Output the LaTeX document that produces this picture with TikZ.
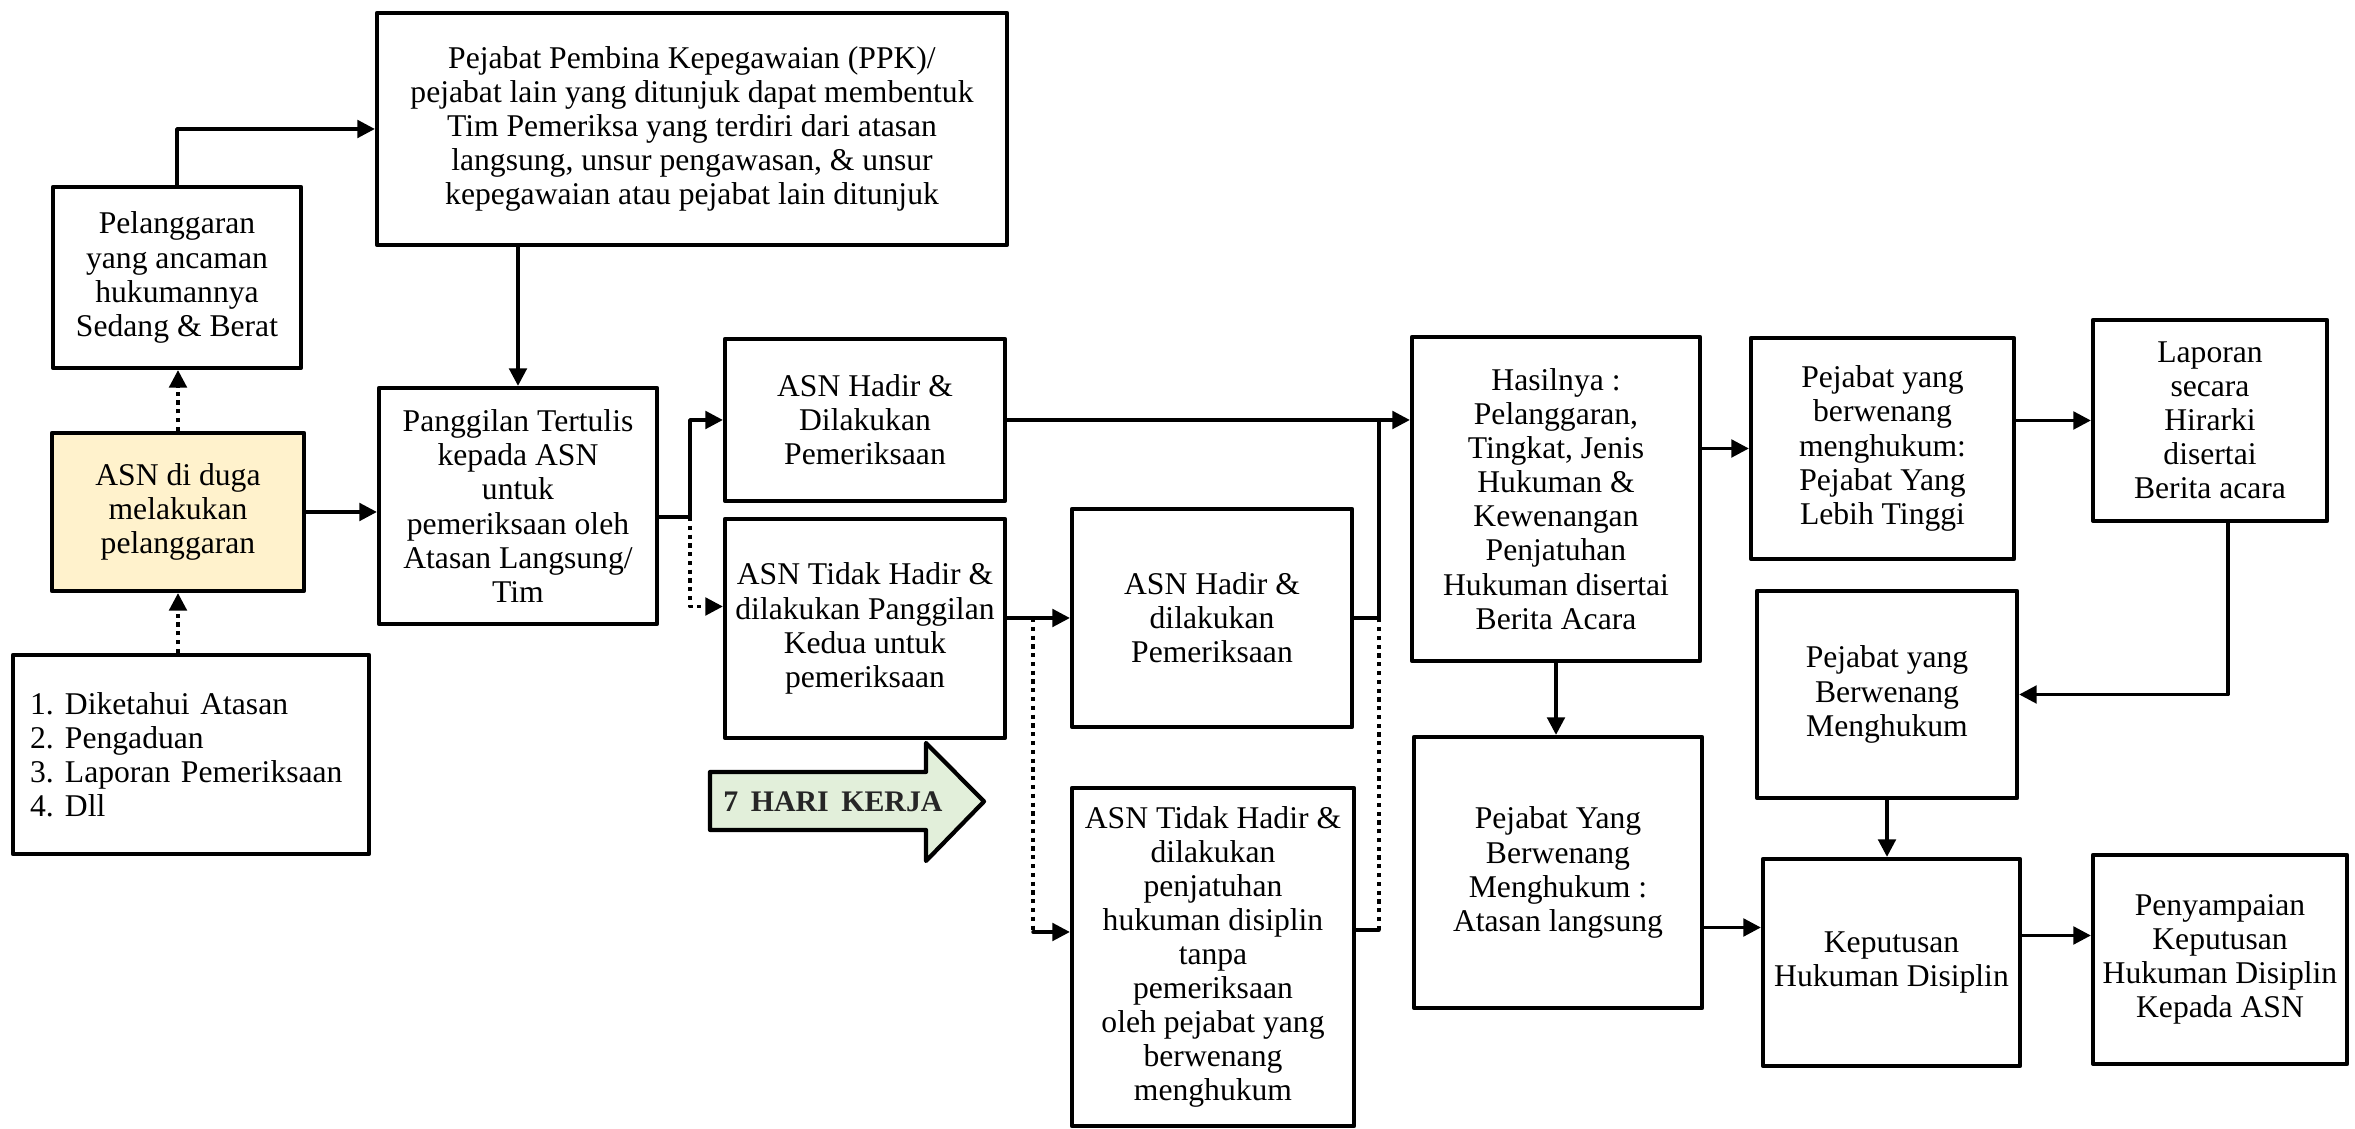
\documentclass[tikz,border=0pt]{standalone}
\usepackage{fontspec}
\setmainfont{Liberation Serif}
\usetikzlibrary{arrows.meta}
\definecolor{kuning}{HTML}{FFF2CC}
\definecolor{hijau}{HTML}{E2EFDA}
\begin{document}
\begin{tikzpicture}[line join = round, line cap = round,>={Triangle[length=5pt,width=5pt]},font=\fontsize{9}{9.7}\selectfont,
	kotak/.style={draw,line width=1.2pt,align=center,inner sep=1pt},
	alur/.style={->,line width=1pt},
	garis/.style={line width=1pt},
	titik/.style={line width=1pt,line cap=butt,dash pattern=on 1.2pt off 1.3pt}]
	
	\useasboundingbox (0,0) rectangle (23.55,11.29);
	
	\node[kotak,minimum width=2.48cm,minimum height=1.81cm] (langgar) at (1.77,8.515) {Pelanggaran\\yang ancaman\\hukumannya\\Sedang \& Berat};
	\node[kotak,fill=kuning,minimum width=2.52cm,minimum height=1.58cm] (asn) at (1.78,6.17) {ASN di duga\\melakukan\\pelanggaran};
	\node[kotak,align=left,text width=3.22cm,inner xsep=0.17cm,minimum height=1.99cm] (sumber) at (1.91,3.745) {\makebox[0.35cm][l]{1.}Diketahui Atasan\\\makebox[0.35cm][l]{2.}Pengaduan\\\makebox[0.35cm][l]{3.}Laporan Pemeriksaan\\\makebox[0.35cm][l]{4.}Dll};
	\node[kotak,minimum width=6.30cm,minimum height=2.32cm] (ppk) at (6.92,10.00) {Pejabat Pembina Kepegawaian (PPK)/\\pejabat lain yang ditunjuk dapat membentuk\\Tim Pemeriksa yang terdiri dari atasan\\langsung, unsur pengawasan, \& unsur\\kepegawaian atau pejabat lain ditunjuk};
	\node[kotak,minimum width=2.78cm,minimum height=2.36cm] (panggil) at (5.18,6.23) {Panggilan Tertulis\\kepada ASN\\untuk\\pemeriksaan oleh\\Atasan Langsung/\\Tim};
	\node[kotak,minimum width=2.80cm,minimum height=1.62cm] (hadir1) at (8.65,7.09) {ASN Hadir \&\\Dilakukan\\Pemeriksaan};
	\node[kotak,minimum width=2.80cm,minimum height=2.19cm] (tdkhadir1) at (8.65,5.005) {ASN Tidak Hadir \&\\dilakukan Panggilan\\Kedua untuk\\pemeriksaan};
	\node[kotak,minimum width=2.80cm,minimum height=2.18cm] (hadir2) at (12.12,5.11) {ASN Hadir \&\\dilakukan\\Pemeriksaan};
	\node[kotak,minimum width=2.82cm,minimum height=3.38cm] (tdkhadir2) at (12.13,1.72) {ASN Tidak Hadir \&\\dilakukan\\penjatuhan\\hukuman disiplin\\tanpa\\pemeriksaan\\oleh pejabat yang\\berwenang\\menghukum};
	\node[kotak,minimum width=2.88cm,minimum height=3.24cm] (hasil) at (15.56,6.30) {Hasilnya :\\Pelanggaran,\\Tingkat, Jenis\\Hukuman \&\\Kewenangan\\Penjatuhan\\Hukuman disertai\\Berita Acara};
	\node[kotak,minimum width=2.88cm,minimum height=2.71cm] (atasan) at (15.58,2.565) {Pejabat Yang\\Berwenang\\Menghukum :\\Atasan langsung};
	\node[kotak,minimum width=2.63cm,minimum height=2.21cm] (tinggi) at (18.825,6.805) {Pejabat yang\\berwenang\\menghukum:\\Pejabat Yang\\Lebih Tinggi};
	\node[kotak,minimum width=2.34cm,minimum height=2.01cm] (laporan) at (22.10,7.085) {Laporan\\secara\\Hirarki\\disertai\\Berita acara};
	\node[kotak,minimum width=2.60cm,minimum height=2.07cm] (berwenang) at (18.87,4.345) {Pejabat yang\\Berwenang\\Menghukum};
	\node[kotak,minimum width=2.57cm,minimum height=2.07cm] (putusan) at (18.915,1.665) {Keputusan\\Hukuman Disiplin};
	\node[kotak,minimum width=2.54cm,minimum height=2.09cm] (sampai) at (22.20,1.695) {Penyampaian\\Keputusan\\Hukuman Disiplin\\Kepada ASN};
	
	\draw[line width=1.2pt,fill=hijau] (7.10,3.57) -- (9.26,3.57) -- (9.26,3.86) -- (9.84,3.275) -- (9.26,2.68) -- (9.26,2.99) -- (7.10,2.99) -- cycle;
	\node[font=\fontsize{8.5}{9}\selectfont\bfseries,text=black!85] (hari) at (8.33,3.27) {7 \,HARI \,KERJA};
	
	\draw[titik,->] (asn.north) -- (asn.north |- langgar.south);
	\draw[titik,->] (asn.south |- sumber.north) -- (asn.south);
	\draw[alur] (asn.east) -- (asn.east -| panggil.west);
	\draw[alur] (langgar.north) |- (ppk.west);
	\draw[alur] (panggil.north |- ppk.south) -- (panggil.north);
	
	\coordinate (cabang1) at (6.90,6.12);
	\coordinate (cabang2) at (10.33,5.11);
	\coordinate (gabung) at (13.79,7.09);
	\coordinate (masukB) at ([yshift=0.22cm]tdkhadir1.west);
	\coordinate (masukC) at ([yshift=0.25cm]tdkhadir2.west);
	\coordinate (keluarC) at ([yshift=0.27cm]tdkhadir2.east);
	\draw[garis] (panggil.east |- cabang1) -- (cabang1);
	\draw[alur] (cabang1) |- (hadir1.west);
	\draw[titik,->] (cabang1) |- (masukB);
	\draw[alur] (tdkhadir1.east |- hadir2.west) -- (hadir2.west);
	\draw[titik] (cabang2) -- (cabang2 |- masukC);
	\draw[alur] (cabang2 |- masukC) -- (masukC);
	
	\draw[alur] (hadir1.east) -- (hadir1.east -| hasil.west);
	\draw[garis] (hadir2.east) -| (gabung);
	\draw[garis] (keluarC) -- (keluarC -| gabung);
	\draw[titik] (keluarC -| gabung) -- (hadir2.east -| gabung);
	
	\coordinate (masuk) at ([yshift=0.35cm]putusan.west);
	\coordinate (keluar) at ([yshift=0.27cm]putusan.east);
	\draw[alur] (hasil.east |- tinggi.west) -- (tinggi.west);
	\draw[alur] (tinggi.east |- laporan.west) -- (laporan.west);
	\draw[alur] ([xshift=0.18cm]laporan.south) |- (berwenang.east);
	\draw[alur] (berwenang.south) -- (berwenang.south |- putusan.north);
	\draw[alur] (hasil.south) -- (hasil.south |- atasan.north);
	\draw[alur] (atasan.east |- masuk) -- (masuk);
	\draw[alur] (keluar) -- (keluar -| sampai.west);
\end{tikzpicture}
\end{document}
